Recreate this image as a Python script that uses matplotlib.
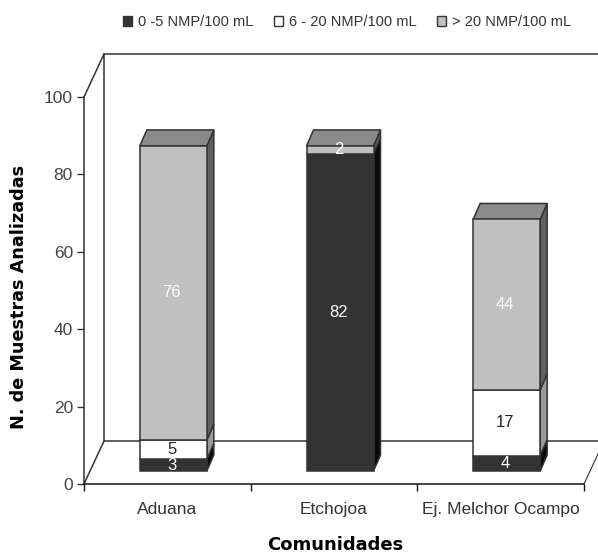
import matplotlib
matplotlib.use('Agg')
import matplotlib.pyplot as plt
from matplotlib.patches import Patch

# data
comunidades = ['Aduana', 'Etchojoa', 'Ej. Melchor Ocampo']
bajo = [3, 82, 4]
medio = [5, 0, 17]
alto = [76, 2, 44]
series_names = ['0 -5 NMP/100 mL', '6 - 20 NMP/100 mL', '> 20 NMP/100 mL']
yticks = [0, 20, 40, 60, 80, 100]

# colours: front, side
front = ['#333333', '#ffffff', '#c0c0c0']
side = ['#0a0a0a', '#999999', '#606060']
top_col = {0: '#1a1a1a', 2: '#8a8a8a'}
text_col = ['white', '#222222', 'white']
line_col = '#333333'

W, H = 598, 554
px_x = 500 / 3  # pixels per category
px_y = 387 / 100  # pixels per unit

plt.rcParams['font.family'] = ['Liberation Sans', 'DejaVu Sans']
fig = plt.figure(figsize=(W / 100, H / 100), dpi=100)
ax = fig.add_axes([84 / W, 1 - 484 / H, 500 / W, 387 / H])
ax.set_xlim(0, 3)
ax.set_ylim(0, 100)
ax.patch.set_alpha(0)

# depth of the back wall and of the bars
wall_dx = 20 / px_x
wall_dy = 43 / px_y
bar_dx = 7 / px_x
bar_dy = 16 / px_y
base = 13 / px_y
bar_off = 6 / px_x
bar_w = 67 / px_x

# walls
lw = 1.1
ax.plot([0, wall_dx, wall_dx], [100, 100 + wall_dy, wall_dy], color=line_col, lw=lw, clip_on=False, zorder=1)
ax.plot([wall_dx, 3.2], [100 + wall_dy, 100 + wall_dy], color=line_col, lw=lw, clip_on=False, zorder=1)
ax.plot([0, wall_dx, 3.2], [0, wall_dy, wall_dy], color=line_col, lw=lw, clip_on=False, zorder=1)
ax.plot([3, 3 + wall_dx], [0, wall_dy], color=line_col, lw=0.8, clip_on=False, zorder=1)

# bars
for i in range(3):
    x0 = i + 0.5 + bar_off - bar_w / 2
    x1 = x0 + bar_w
    bottom = base
    vals = [bajo[i], medio[i], alto[i]]
    last = max(j for j in range(3) if vals[j] > 0)
    for j in range(3):
        v = vals[j]
        if v == 0:
            continue
        ax.bar(x0, v, width=bar_w, bottom=bottom, align='edge', color=front[j],
               edgecolor=line_col, linewidth=lw, zorder=3)
        ax.fill([x1, x1 + bar_dx, x1 + bar_dx, x1],
                [bottom, bottom + bar_dy, bottom + v + bar_dy, bottom + v],
                facecolor=side[j], edgecolor=line_col, linewidth=lw, zorder=2)
        if j == last:
            t = bottom + v
            ax.fill([x0, x0 + bar_dx, x1 + bar_dx, x1], [t, t + bar_dy, t + bar_dy, t],
                    facecolor=top_col[j], edgecolor=line_col, linewidth=lw, zorder=2)
        ax.text((x0 + x1) / 2 - 1.5 / px_x, bottom + v / 2, str(v), color=text_col[j], fontsize=12,
                ha='center', va='center', zorder=4)
        bottom += v

# axes
for s in ['top', 'right']:
    ax.spines[s].set_visible(False)
ax.spines['left'].set_color(line_col)
ax.spines['left'].set_linewidth(lw)
ax.spines['bottom'].set_color('#111111')
ax.spines['bottom'].set_linewidth(lw)
ax.set_yticks(yticks)
ax.set_xticks([0, 1, 2, 3])
ax.set_xticklabels([])
ax.set_xticks([0.5, 1.5, 2.5], minor=True)
ax.set_xticklabels(comunidades, minor=True)
ax.tick_params(axis='x', which='minor', length=0, pad=13, labelsize=12.5, labelcolor='#333333')
ax.tick_params(axis='x', which='major', length=5, width=1, color='#111111')
ax.tick_params(axis='y', length=5, width=1, color=line_col, pad=3, labelsize=12.5, labelcolor='#444444')

fig.text(335 / W, 1 - 545 / H, 'Comunidades', family='DejaVu Sans', fontweight='bold',
         fontsize=13, ha='center', va='center', color='black')
fig.text(19 / W, 1 - 297 / H, 'N. de Muestras Analizadas', family='DejaVu Sans', fontweight='bold',
         fontsize=12.7, rotation=90, ha='center', va='center', color='black')

handles = [Patch(facecolor=front[k], edgecolor=line_col, label=series_names[k]) for k in range(3)]
fig.legend(handles=handles, ncol=3, frameon=False, fontsize=10.5, labelcolor='#333333',
           handlelength=0.6, handleheight=0.65, handletextpad=0.4, columnspacing=1.44,
           loc='center', bbox_to_anchor=(347 / W, 1 - 22 / H), borderpad=0)

fig.savefig('out.png', dpi=100)
